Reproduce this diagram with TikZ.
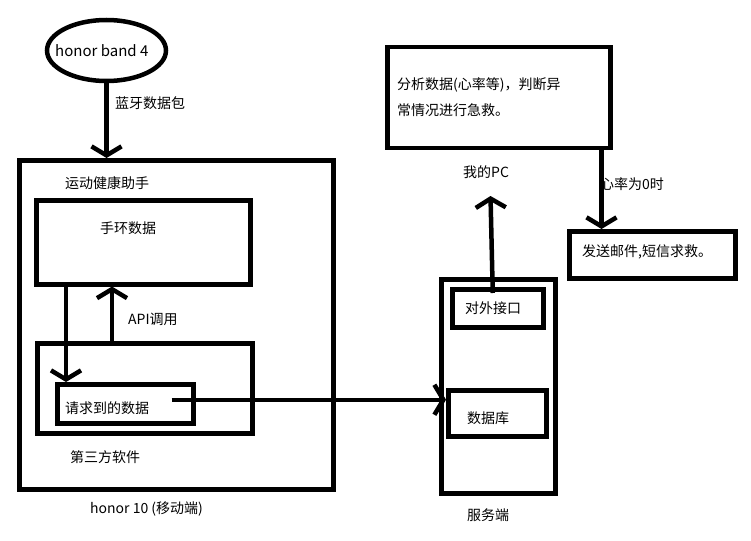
\documentclass[tikz,border=0pt]{standalone}
\usepackage{fontspec}
\setmainfont{Noto Sans CJK SC}
\usetikzlibrary{arrows.meta,shapes.geometric}
\begin{document}
\begin{tikzpicture}[x=1pt,y=-1pt,
  box/.style={draw,line width=4.5pt,rectangle,inner sep=0pt,anchor=north west},
  lbl/.style={inner sep=0pt,anchor=west,font=\fontsize{14}{26}\selectfont},
  arr/.style={line width=4.5pt,-{Straight Barb[length=9pt,width=30pt]}}]
\useasboundingbox (0,0) rectangle (751,540);
% shapes
\node[draw,line width=4.5pt,ellipse,minimum width=119pt,minimum height=61pt,inner sep=0pt] (bandfour) at (106.5,50.5) {};
\node[box,minimum width=314pt,minimum height=329pt] (phone) at (17,158) {};
\node[box,minimum width=214pt,minimum height=84pt] (band) at (34,198) {};
\node[box,minimum width=215pt,minimum height=90pt] (third) at (35,341) {};
\node[box,minimum width=136pt,minimum height=39pt] (req) at (55,382) {};
\node[box,minimum width=114pt,minimum height=214pt] (server) at (439,277) {};
\node[box,minimum width=91pt,minimum height=38pt] (api) at (450,287) {};
\node[box,minimum width=98pt,minimum height=46pt] (db) at (446,388) {};
\node[box,minimum width=223pt,minimum height=101pt] (pc) at (385,45) {};
\node[box,minimum width=166pt,minimum height=47pt] (send) at (567,229) {};
% labels
\node[lbl,font=\fontsize{15}{26}\selectfont] (tband) at (55,51) {honor band 4};
\node[lbl] (tblue) at (115,103) {蓝牙数据包};
\node[lbl] (thealth) at (65,183) {运动健康助手};
\node[lbl] (tbanddata) at (100,228) {手环数据};
\node[lbl] (tapi) at (128,319) {API调用};
\node[lbl] (treq) at (65,408) {请求到的数据};
\node[lbl] (tthird) at (70,457) {第三方软件};
\node[lbl] (tphone) at (90,509) {honor 10 (移动端)};
\node[lbl,align=left] (tpc) at (397,97) {分析数据(心率等)，判断异\\常情况进行急救。};
\node[lbl] (tmypc) at (463,172) {我的PC};
\node[lbl] (theart) at (600,184) {心率为0时};
\node[lbl] (tsend) at (582,252) {发送邮件,短信求救。};
\node[lbl] (tapiif) at (465,308) {对外接口};
\node[lbl] (tdb) at (467,418) {数据库};
\node[lbl] (tserver) at (467,515) {服务端};
% connectors
\draw[arr] (bandfour.south) -- (bandfour.south |- phone.north);
\coordinate (dtop) at ([xshift=11pt]req.north west);
\draw[arr] (dtop |- band.south) -- (dtop);
\coordinate (ubot) at ([xshift=77pt]third.north west);
\draw[arr] (ubot) -- (ubot |- band.south);
\coordinate (hstart) at ([xshift=-24pt,yshift=4pt]req.east);
\draw[arr] (hstart) -- (hstart -| db.west);
\coordinate (pa) at ([xshift=-5pt,yshift=-6pt]api.north);
\coordinate (pctip) at (490.5,196);
\draw[arr] (pa) -- (pctip);
\coordinate (ps) at ([xshift=-11pt]pc.south east);
\draw[arr] (ps) -- (ps |- send.north);
\end{tikzpicture}
\end{document}
